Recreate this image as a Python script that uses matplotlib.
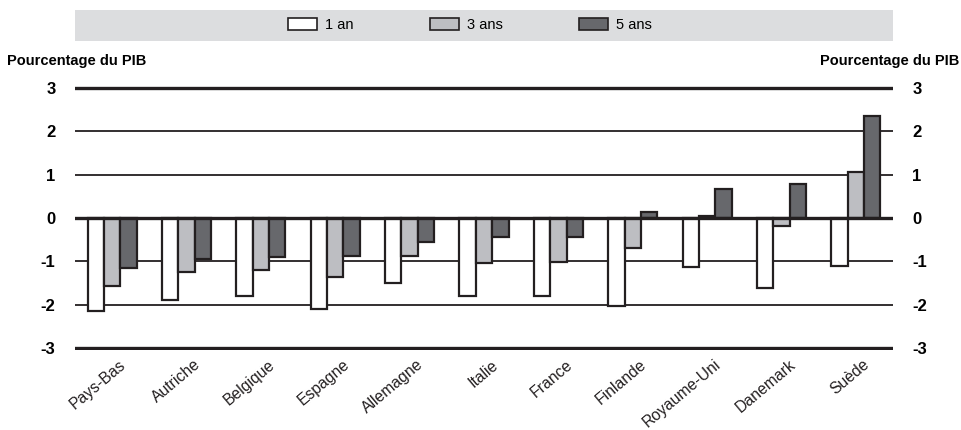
import numpy as np
import matplotlib
matplotlib.use('Agg')
import matplotlib.pyplot as plt
from matplotlib.patches import Rectangle, Patch

plt.rcParams['font.family'] = ['Liberation Sans', 'DejaVu Sans']

pays = ['Pays-Bas', 'Autriche', 'Belgique', 'Espagne', 'Allemagne', 'Italie',
        'France', 'Finlande', 'Royaume-Uni', 'Danemark', 'Suède']
an1 = [-2.14, -1.89, -1.80, -2.10, -1.50, -1.81, -1.80, -2.04, -1.13, -1.62, -1.11]
ans3 = [-1.56, -1.25, -1.20, -1.36, -0.87, -1.03, -1.02, -0.70, 0.04, -0.18, 1.06]
ans5 = [-1.16, -0.94, -0.90, -0.87, -0.55, -0.43, -0.43, 0.14, 0.68, 0.78, 2.36]
series_labels = ['1 an', '3 ans', '5 ans']
yticks = [-3, -2, -1, 0, 1, 2, 3]

colors = ['#ffffff', '#bdbec2', '#67686c']
edge = '#231f20'

fig = plt.figure(figsize=(9.61, 4.30), dpi=100)
ax = fig.add_axes([75/961, 1-350/430, (893-75)/961, (350-86)/430])

x = np.arange(len(pays))
w = 0.22
for i, vals in enumerate([an1, ans3, ans5]):
    ax.bar(x + (i-1)*w, vals, w, color=colors[i], edgecolor=edge,
           linewidth=1.6, zorder=3, label=series_labels[i])

for yv in yticks:
    lw = 2.4 if yv in (-3, 0, 3) else 1.3
    ax.axhline(yv, color=edge, lw=lw, zorder=2 if yv != 0 else 4)

ax.set_xlim(-0.5, len(pays)-0.5)
ax.set_ylim(-3.05, 3.05)
for s in ax.spines.values():
    s.set_visible(False)
ax.set_yticks(yticks)
ax.set_yticklabels([str(v) for v in yticks], fontweight='bold', fontsize=12)
ax.tick_params(axis='y', length=0, pad=14, labelright=True)
ax.tick_params(axis='x', length=0, pad=5)
ax.set_xticks(x)
ax.set_xticklabels(pays, rotation=40, ha='right', rotation_mode='anchor',
                   fontsize=11.3, color='#231f20')
for lab in ax.get_xticklabels():
    lab.set_transform(lab.get_transform() +
                      matplotlib.transforms.ScaledTranslation(7/100, 0, fig.dpi_scale_trans))

fig.text(7/961, 1-61/430, 'Pourcentage du PIB', fontsize=10.5, va='center', ha='left',
         fontweight='bold')
fig.text(959/961, 1-61/430, 'Pourcentage du PIB', fontsize=10.5, va='center', ha='right',
         fontweight='bold')

# legend band
fig.patches.append(Rectangle((75/961, 1-41/430), (893-75)/961, 31/430,
                             transform=fig.transFigure, facecolor='#dcdddf',
                             edgecolor='none'))
handles = [Patch(facecolor=c, edgecolor=edge, linewidth=1.2) for c in colors]
fig.legend(handles, series_labels, loc='center left',
           bbox_to_anchor=(275/961, 1-25/430), ncol=3, frameon=False,
           fontsize=10.5, handlelength=2.0, handleheight=0.95,
           handletextpad=0.55, columnspacing=5.2)

fig.savefig('out.png', dpi=100)
